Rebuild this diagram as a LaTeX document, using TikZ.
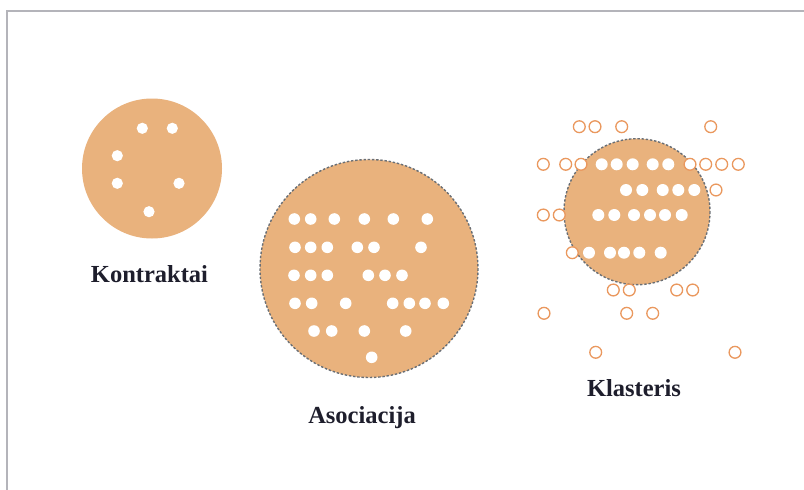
\documentclass[tikz,border=0pt]{standalone}
\usepackage{fontspec}
\setmainfont{Liberation Serif}
\definecolor{disc}{HTML}{E9B27D}
\definecolor{ring}{HTML}{EA985E}
\definecolor{dash}{HTML}{6A6F75}
\definecolor{frame}{HTML}{B4B4BA}
\definecolor{ink}{HTML}{1E1E2C}
\tikzset{
  bigdisc/.style={fill=disc},
  dashdisc/.style={fill=disc,draw=dash,line width=1.4pt,dash pattern=on 2.4pt off 1.8pt},
  hole/.style={fill=white},
  opendot/.style={fill=white,draw=ring,line width=1.3pt},
  lbl/.style={font=\bfseries\fontsize{24.5}{28}\selectfont,text=ink,anchor=base,inner sep=0pt}
}
\begin{document}
\begin{tikzpicture}[x=1pt,y=-1pt]
\useasboundingbox (0,0) rectangle (804,490);
\fill[white] (0,0) rectangle (804,490);
% frame
\draw[frame,line width=2pt] (6.5,490) -- (6.5,11) -- (804,11);
% Kontraktai
\fill[bigdisc] (152,168.5) circle (70);
\foreach \x/\y in {142.3/128.3,172.3/128.3,117.3/155.7,117.3/183.3,179/183.3,149/211.7}
  \fill[hole] (\x,\y) circle (5.6);
\node[lbl] (k1) at (149.5,282) {Kontraktai};
% Asociacija
\filldraw[dashdisc] (369,268.5) circle (109);
\foreach \x/\y in {294.3/219,310.7/219,334.3/219,364.3/219,393.3/219,427.3/219,
  295/247.3,310.7/247.3,327.3/247.3,357.3/247.3,374/247.3,421/247.3,
  294/275.3,310.7/275.3,327.3/275.3,368.3/275.3,385/275.3,402/275.3,
  295/303.3,311.7/303.3,345.7/303.3,392.7/303.3,409.3/303.3,425/303.3,443.3/303.3,
  314/331,331.7/331,364.3/331,405.7/331,371.7/357.3}
  \fill[hole] (\x,\y) circle (5.8);
\node[lbl] (k2) at (362,423) {Asociacija};
% Klasteris
\filldraw[dashdisc] (637,211.7) circle (73);
\foreach \x/\y in {601.7/164.3,616.7/164.3,632.7/164.3,652.7/164.3,668.3/164.3,
  626/190,642.3/190,662.7/190,678.3/190,694.3/190,
  598.3/215,614.3/215,634/215,650/215,665/215,681.7/215,
  589/252.7,610/252.7,624/252.7,639.3/252.7,660.7/252.7}
  \fill[hole] (\x,\y) circle (6);
\foreach \x/\y in {579.3/126.7,595/126.7,621.7/126.7,710.7/126.7,
  543.3/164.3,565.7/164.3,581/164.3,690/164.3,705.7/164.3,721.7/164.3,738.3/164.3,
  716/190,543.3/215,559.3/215,572.3/252.7,
  613.3/290,629.3/290,676.7/290,692.7/290,
  544/313.3,626.7/313.3,652.7/313.3,595.7/352.3,735/352.3}
  \filldraw[opendot] (\x,\y) circle (5.9);
\node[lbl] (k3) at (634,396.7) {Klasteris};
\end{tikzpicture}
\end{document}
